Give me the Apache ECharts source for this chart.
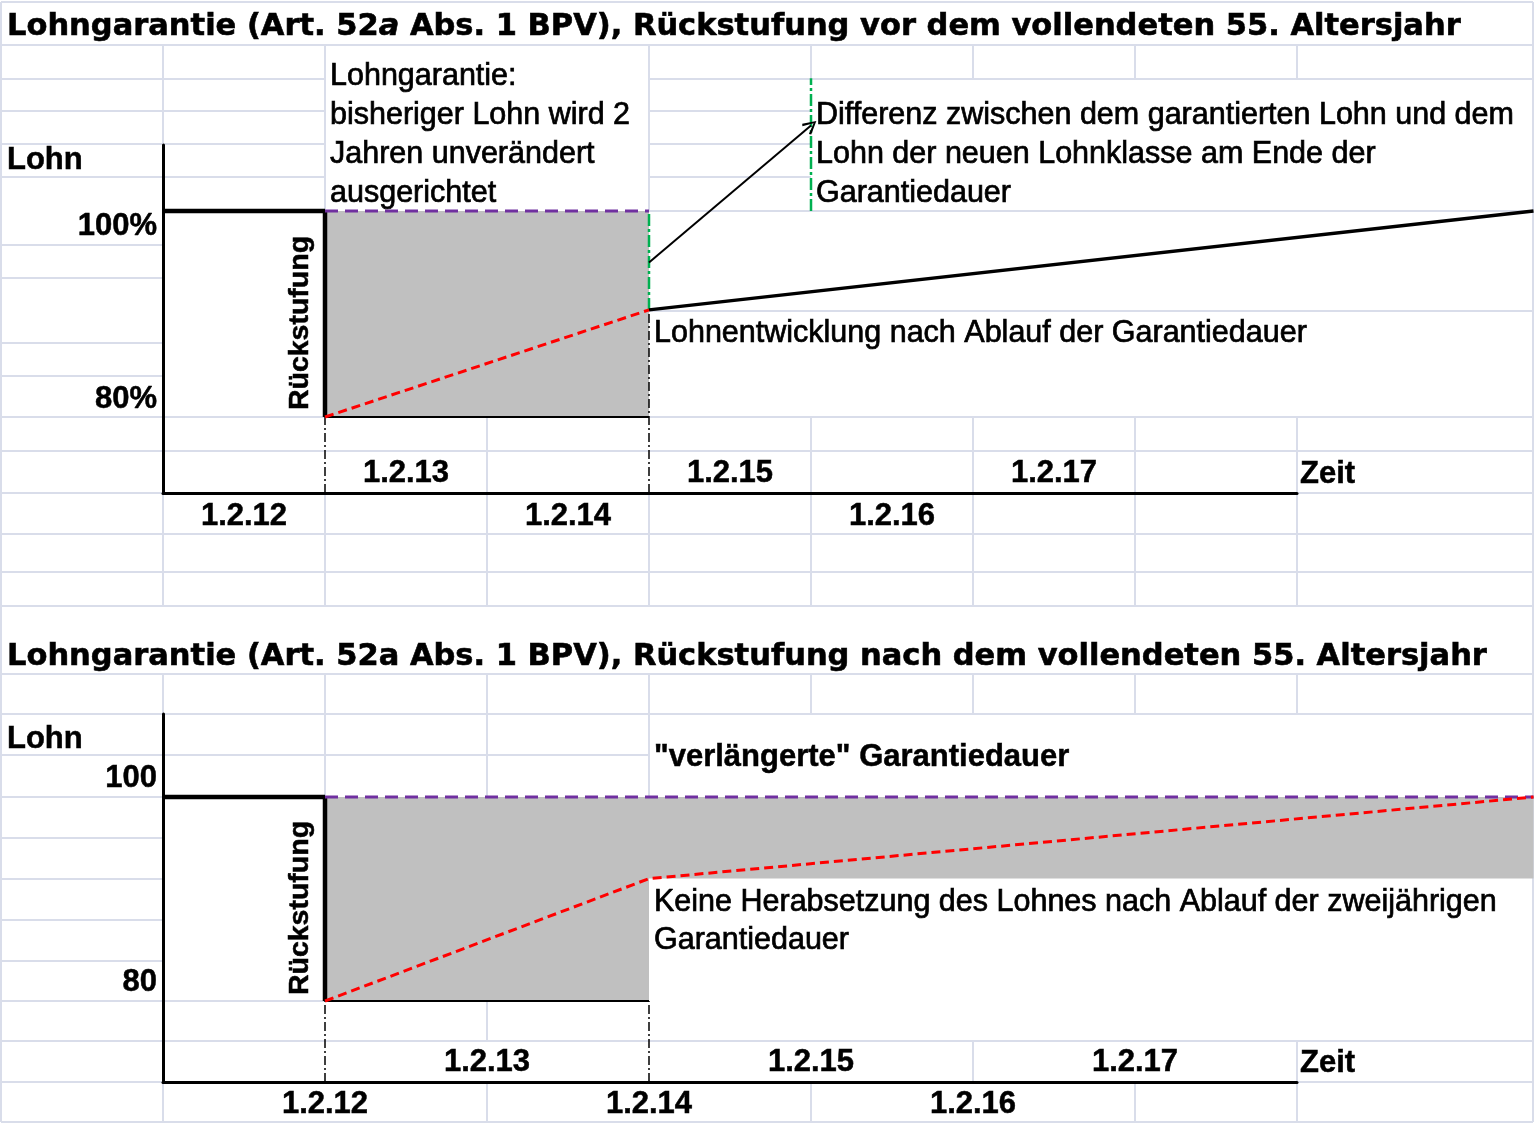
<!DOCTYPE html>
<html><head><meta charset="utf-8">
<script src="https://cdn.jsdelivr.net/npm/echarts@6/dist/echarts.min.js"></script>
<style>html,body{margin:0;padding:0;background:#fff}#c{width:1536px;height:1125px}</style>
</head><body><div id="c"></div><script>
// ---------------- data ----------------
// x = year (12 = 1.2.12), y = Lohn in %
const dateLabels = ['1.2.12','1.2.13','1.2.14','1.2.15','1.2.16','1.2.17'];
const topLabelPos = [11.5,12.5,13.5,14.5,15.5,16.5];
const bottomLabelPos = [12,13,14,15,16,17];
const yTicksTop = [80,100];
const yTicksBottom = [80,100];

// Panel 1: Rückstufung vor dem vollendeten 55. Altersjahr
const p1OldWage = [[11,100],[12,100]];
const p1Drop = [[12,100],[12,80]];
const p1Guaranteed = [[12,100],[14,100]];
const p1NewClass = [[12,80],[14,90.4]];
const p1After = [[14,90.4],[19.46,100]];
const p1Band = [[12,80],[12,100],[14,100],[14,80]];
const p1BandBase = [[12,80],[14,80]];
const p1Diff = [[14,90.4],[14,100]];
const p1DiffNote = [[15,100],[15,112.9]];
const p1Arrow = [[14,95],[15,108.3]];
const p1Mark12 = [[12,72.62],[12,80]];
const p1Mark14 = [[14,72.62],[14,90.4]];

// Panel 2: Rückstufung nach dem vollendeten 55. Altersjahr
const p2OldWage = [[11,100],[12,100]];
const p2Drop = [[12,100],[12,80]];
const p2Guaranteed = [[12,100],[19.46,100]];
const p2NewClass = [[12,80],[14,92],[19.46,100]];
const p2Band = [[12,80],[12,100],[19.46,100],[19.46,92],[14,92],[14,80]];
const p2BandBase = [[12,80],[14,80]];
const p2Mark12 = [[12,72.06],[12,80]];
const p2Mark14 = [[14,72.06],[14,80]];

// ---------------- styles ----------------
const FF = '"Liberation Sans", Arial, sans-serif';
const FT = '"DejaVu Sans", sans-serif';
const gridColor = '#d9ddea';
const H = [
 [2,1,1533],[45,1,1533],
 [79,1,325],[79,649,1533],
 [111,1,325],[111,649,811],[144,1,325],[144,649,811],[177,1,325],[177,649,811],
 [211,649,1533],
 [245,1,163],[278,1,163],[343,1,163],[376,1,163],
 [311,649,1533],
 [417,1,325],[417,649,1533],
 [451,1,1533],
 [493,1,163],[493,1297,1533],
 [534,1,1533],[572,1,1533],[606,1,1533],
 [674,1,1533],[714,1,1533],
 [755,1,649],
 [797,1,163],[838,1,163],[879,1,163],[920,1,163],[961,1,163],
 [1001,1,325],
 [1041,1,1533],
 [1082,1,163],[1082,1297,1533],
 [1122,1,1533]
];
const V = [
 [1,2,1122],[1533,2,1122],
 [163,45,145],[163,493,606],
 [325,45,211],[325,493,606],
 [487,417,606],
 [649,45,211],[649,493,606],
 [811,45,79],[811,417,606],
 [973,45,79],[973,417,606],
 [1135,45,79],[1135,417,606],
 [1297,45,79],[1297,417,606],
 [163,674,714],[163,1082,1122],
 [325,674,797],
 [487,674,797],[487,1001,1041],[487,1082,1122],
 [649,674,797],
 [811,674,714],[811,1082,1122],
 [973,674,714],[973,1041,1082],
 [1135,674,714],[1135,1082,1122],
 [1297,674,714],[1297,1041,1122]
];
const graphics = [];
H.forEach(([y,x1,x2]) => graphics.push({type:'line', silent:true, z:0, shape:{x1:x1,y1:y,x2:x2,y2:y}, style:{stroke:gridColor, lineWidth:2}}));
V.forEach(([x,y1,y2]) => graphics.push({type:'line', silent:true, z:0, shape:{x1:x,y1:y1,x2:x,y2:y2}, style:{stroke:gridColor, lineWidth:2}}));

function txt(text, x, y, o) {
  return {type:'text', x:x, y:y, z:100, silent:true, rotation:(o&&o.rotation)||0,
    style:Object.assign({text:text, fill:'#000', stroke:'#000', lineWidth:0.7, font:'30.5px '+FF, align:'left', verticalAlign:'middle', textAlign:'left', textVerticalAlign:'middle'}, (o&&o.style)||{})};
}
const boldF = 'bold 31px '+FF;
const titleF = 'bold 30.5px '+FT;
const titleRich = {n:{fontWeight:'bold', fontSize:30.5, fontFamily:FT, fill:'#000', stroke:'#000', lineWidth:0.6},
                   i:{fontWeight:'bold', fontStyle:'italic', fontSize:30.5, fontFamily:FT, fill:'#000', stroke:'#000', lineWidth:0.6}};
graphics.push(txt('{n|Lohngarantie (Art. 52}{i|a}{n| Abs. 1 BPV), Rückstufung vor dem vollendeten 55. Altersjahr}', 7, 27,
  {style:{font:titleF, stroke:'#000', lineWidth:0.6, rich:titleRich}}));
graphics.push(txt('Lohngarantie (Art. 52a Abs. 1 BPV), Rückstufung nach dem vollendeten 55. Altersjahr', 7, 657,
  {style:{font:titleF, stroke:'#000', lineWidth:0.6}}));
graphics.push(txt('Lohn', 7, 160, {style:{font:boldF, lineWidth:0.5}}));
graphics.push(txt('Lohn', 7, 739, {style:{font:boldF, lineWidth:0.5}}));
graphics.push(txt('Rückstufung', 300, 323, {rotation:Math.PI/2, style:{font:'bold 28.5px '+FF, lineWidth:0.5, align:'center', textAlign:'center'}}));
graphics.push(txt('Rückstufung', 300, 908, {rotation:Math.PI/2, style:{font:'bold 28.5px '+FF, lineWidth:0.5, align:'center', textAlign:'center'}}));
graphics.push(txt('Lohngarantie:\nbisheriger Lohn wird 2\nJahren unverändert\nausgerichtet', 330, 77-19.5, {style:{lineHeight:39, verticalAlign:'top', textVerticalAlign:'top'}}));
graphics.push(txt('Differenz zwischen dem garantierten Lohn und dem\nLohn der neuen Lohnklasse am Ende der\nGarantiedauer', 816, 116-19.5, {style:{lineHeight:39, verticalAlign:'top', textVerticalAlign:'top'}}));
graphics.push(txt('Lohnentwicklung nach Ablauf der Garantiedauer', 654, 334));
graphics.push(txt('"verlängerte" Garantiedauer', 654, 757, {style:{font:boldF, lineWidth:0.5}}));
graphics.push(txt('Keine Herabsetzung des Lohnes nach Ablauf der zweijährigen\nGarantiedauer', 654, 903-19, {style:{lineHeight:38, verticalAlign:'top', textVerticalAlign:'top'}}));

// ---------------- axes ----------------
const labelStyle = {color:'#000', fontFamily:FF, fontWeight:'bold', fontSize:31, textBorderColor:'#000', textBorderWidth:0.5};
function xAx(gi, all, values, inside, showLine, withName, margin) {
  const a = {type:'value', gridIndex:gi, min:11, max:18, position:'bottom',
    axisLine:{show:showLine, onZero:false, lineStyle:{color:'#000', width:3}},
    axisTick:{show:false}, splitLine:{show:false},
    axisLabel:Object.assign({show:true, inside:inside, margin:margin, customValues:values,
      formatter:function(v){ const i = all.indexOf(v); return i>=0 ? dateLabels[i] : ''; }}, labelStyle)};
  if (withName) {
    a.name = 'Zeit'; a.nameLocation = 'end'; a.nameGap = 3;
    a.nameTextStyle = {color:'#000', fontFamily:FF, fontWeight:'bold', fontSize:31, align:'left', verticalAlign:'bottom', padding:[0,0,3,0], textBorderColor:'#000', textBorderWidth:0.5};
  }
  return a;
}
const topLabBelow = topLabelPos.filter((v,i)=>i%2===0);
const topLabAbove = topLabelPos.filter((v,i)=>i%2===1);
const botLabBelow = bottomLabelPos.filter((v,i)=>i%2===0);
const botLabAbove = bottomLabelPos.filter((v,i)=>i%2===1);
function yAx(gi, min, max, ticks, fmt) {
  return {type:'value', gridIndex:gi, min:min, max:max,
    axisLine:{show:true, onZero:false, lineStyle:{color:'#000', width:3}},
    axisTick:{show:false}, splitLine:{show:false},
    axisLabel:{show:true, margin:6, customValues:ticks, formatter:fmt,
      rich:{d:Object.assign({padding:[30,0,0,0]}, labelStyle), u:Object.assign({padding:[0,0,36,0]}, labelStyle), w:Object.assign({padding:[0,0,38,0]}, labelStyle)}}};
}

// ---------------- series helpers ----------------
function line(xi, yi, data, color, width, type, z) {
  return {type:'line', xAxisIndex:xi, yAxisIndex:yi, data:data, clip:false, showSymbol:false, symbol:'none', silent:true, z:z||3,
    lineStyle:{color:color, width:width, type:type||'solid', cap:'butt'}, animation:false};
}
// polyline that may run past the axis end (right edge of the sheet)
function poly(xi, yi, pts, color, width, dash, z) {
  return {type:'custom', xAxisIndex:xi, yAxisIndex:yi, clip:false, silent:true, z:z||3, data:[pts[0]],
    renderItem:function(params, api){ return {type:'polyline', shape:{points:pts.map(p=>api.coord(p))},
      style:{stroke:color, lineWidth:width, lineDash:dash||null, fill:null}}; }};
}
function band(xi, yi, pts) {
  return {type:'custom', xAxisIndex:xi, yAxisIndex:yi, clip:false, silent:true, z:1, data:[pts[0]],
    renderItem:function(params, api){ return {type:'polygon', shape:{points:pts.map(p=>api.coord(p))}, style:{fill:'#c0c0c0'}}; }};
}
const RED = '#ff0000', PURPLE = '#7030a0', GREEN = '#00b050';
const dashDot = [9,3,2,3];
const openArrow = 'path://M5,0 L10,9 L8.6,10 L5,2.6 L1.4,10 L0,9 Z';

const option = {
  animation:false,
  backgroundColor:'#ffffff',
  grid:[
    {left:163, top:145, width:1134, height:348, containLabel:false, outerBoundsMode:'none'},
    {left:163, top:714, width:1134, height:368, containLabel:false, outerBoundsMode:'none'}
  ],
  xAxis:[
    xAx(0, topLabelPos, topLabBelow, false, true, false, 8),
    xAx(0, topLabelPos, topLabAbove, true, false, true, 4),
    xAx(1, bottomLabelPos, botLabBelow, false, true, false, 7),
    xAx(1, bottomLabelPos, botLabAbove, true, false, true, 4)
  ],
  yAxis:[
    yAx(0, 72.62, 106.41, yTicksTop, function(v){ return v===100 ? '{d|100%}' : '{u|80%}'; }),
    yAx(1, 72.06, 108.14, yTicksBottom, function(v){ return '{w|' + v + '}'; })
  ],
  graphic:{elements:graphics},
  series:[
    band(0,0,p1Band),
    line(0,0,p1BandBase,'#000',2),
    line(0,0,p1OldWage,'#000',4.5),
    line(0,0,p1Drop,'#000',4.5),
    line(0,0,p1Guaranteed,PURPLE,3,[13,7]),
    line(0,0,p1Mark12,'#000',1.5,dashDot),
    line(0,0,p1Mark14,'#000',1.5,dashDot),
    line(0,0,p1Diff,GREEN,2.5,[12,3,3,3],4),
    line(0,0,p1DiffNote,GREEN,2.5,[12,3,3,3]),
    line(0,0,p1NewClass,RED,3,[9,5],5),
    poly(0,0,p1After,'#000',3.5,null,5),
    {type:'lines', coordinateSystem:'cartesian2d', xAxisIndex:0, yAxisIndex:0, clip:false, silent:true, z:6,
      symbol:['none',openArrow], symbolSize:[0,14], lineStyle:{color:'#000', width:2, opacity:1, curveness:0},
      data:[{coords:p1Arrow}]},

    band(2,1,p2Band),
    line(2,1,p2BandBase,'#000',2),
    line(2,1,p2OldWage,'#000',4.5),
    line(2,1,p2Drop,'#000',4.5),
    poly(2,1,p2Guaranteed,PURPLE,3,[13,7],4),
    line(2,1,p2Mark12,'#000',1.5,dashDot),
    line(2,1,p2Mark14,'#000',1.5,dashDot),
    poly(2,1,p2NewClass,RED,3,[9,5],5)
  ]
};
const chart = echarts.init(document.getElementById('c'), null, {renderer:'canvas', width:1536, height:1125});
chart.setOption(option);
</script></body></html>
